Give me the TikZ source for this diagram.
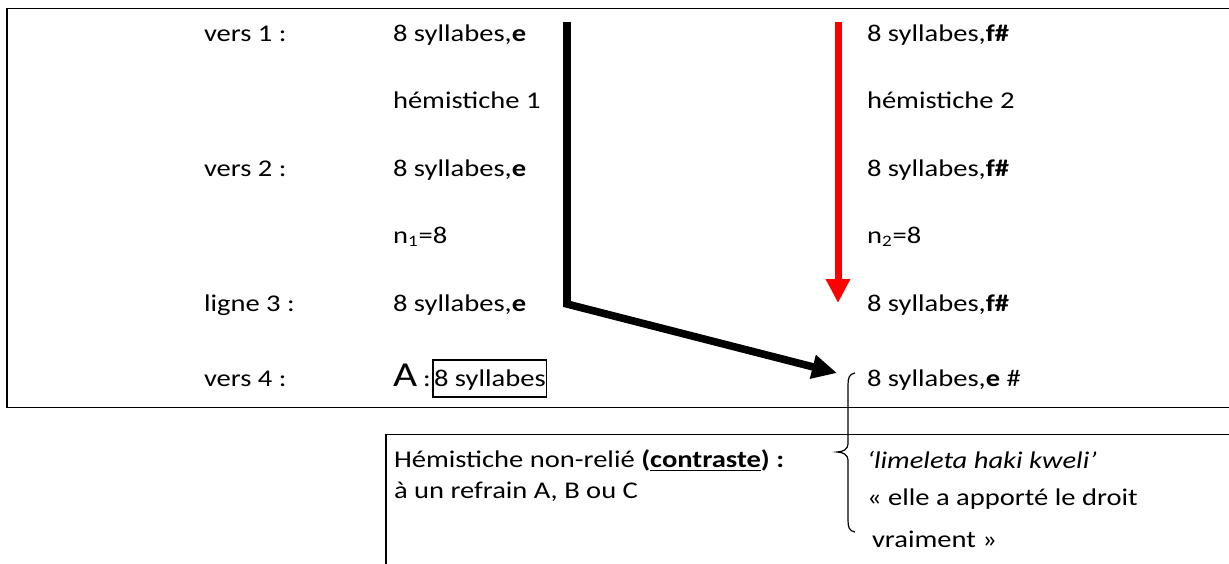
\documentclass[tikz,border=0pt]{standalone}
\usepackage{fontspec}
\setmainfont{Carlito}[FakeStretch=1.19]
\usetikzlibrary{arrows.meta}
\begin{document}
\begin{tikzpicture}[x=0.5pt,y=-0.5pt,
  txt/.style={anchor=base west,inner sep=0pt,outer sep=0pt,font=\fontsize{12pt}{14pt}\selectfont},
  bigA/.style={anchor=base west,inner sep=0pt,outer sep=0pt,font=\fontsize{17.5pt}{20pt}\selectfont},
  frame/.style={draw=black,line width=0.75pt},
  blackarrow/.style={draw=black,line width=3.8pt,-{Triangle[length=12.5pt,width=11.5pt]}},
  redarrow/.style={draw=red,line width=3.5pt,-{Triangle[length=12pt,width=11.5pt]}},
  bracepath/.style={draw=black,line width=0.6pt}]
\useasboundingbox (0,0) rectangle (1229,563);
\fill[white] (0,0) rectangle (1229,563);
% frames
\draw[frame] (1240,8.5) -- (7,8.5) -- (7,407.5) -- (1240,407.5);
\draw[frame] (1240,434.5) -- (386,434.5) -- (386,570);
% left column
\node[txt] (v1) at (204,41) {vers 1 :};
\node[txt] (v2) at (204,176) {vers 2 :};
\node[txt] (l3) at (204,311) {ligne 3 :};
\node[txt] (v4) at (204,386) {vers 4 :};
% middle column
\node[txt] (m1) at (393,41) {8 syllabes,\textbf{e}};
\node[txt] (m2) at (393,108) {hémistiche 1};
\node[txt] (m3) at (393,176) {8 syllabes,\textbf{e}};
\node[txt] (m4) at (393,243) {n\textsubscript{1}=8};
\node[txt] (m5) at (393,311) {8 syllabes,\textbf{e}};
\node[bigA] (mA) at (393,386) {A};
\node[txt] (mcolon) at (423,386) {:};
\node[txt,draw=black,line width=0.7pt,inner xsep=0.5pt,text depth=5.5pt,text height=13pt,anchor=base west] (m6) at (433,386) {8 syllabes};
% right column
\node[txt] (r1) at (867,41) {8 syllabes,\textbf{f\#}};
\node[txt] (r2) at (867,108) {hémistiche 2};
\node[txt] (r3) at (867,176) {8 syllabes,\textbf{f\#}};
\node[txt] (r4) at (867,243) {n\textsubscript{2}=8};
\node[txt] (r5) at (867,311) {8 syllabes,\textbf{f\#}};
\node[txt] (r6) at (867,386) {8 syllabes,\textbf{e} \#};
% lower box texts
\node[txt] (b1) at (394,467) {Hémistiche non-relié \textbf{(\underline{contraste}) :}};
\node[txt] (b2) at (394,498) {à un refrain A, B ou C};
\node[txt] (c1) at (867,468) {\itshape ‘limeleta haki kweli’};
\node[txt] (c2) at (867,505) {« elle a apporté le droit};
\node[txt] (c3) at (872,547) {vraiment »};
% connectors
\coordinate (bstart) at (567,22);
\coordinate (bbend) at (567,304);
\coordinate (btip) at (837,373);
\draw[blackarrow] (bstart) -- (bbend) -- (btip);
\coordinate (rstart) at (838,22);
\coordinate (rtip) at (838,303);
\draw[redarrow] (rstart) -- (rtip);
% brace
\coordinate (brtop) at (855,373);
\coordinate (brmid) at (837,452);
\coordinate (brbot) at (855,532);
\draw[bracepath] (brtop) .. controls (849,374) and (848,378) .. (848,385)
  -- (848,444) .. controls (848,449) and (843,452) .. (brmid)
  .. controls (843,452) and (848,455) .. (848,460)
  -- (848,520) .. controls (848,527) and (849,531) .. (brbot);
\end{tikzpicture}
\end{document}
